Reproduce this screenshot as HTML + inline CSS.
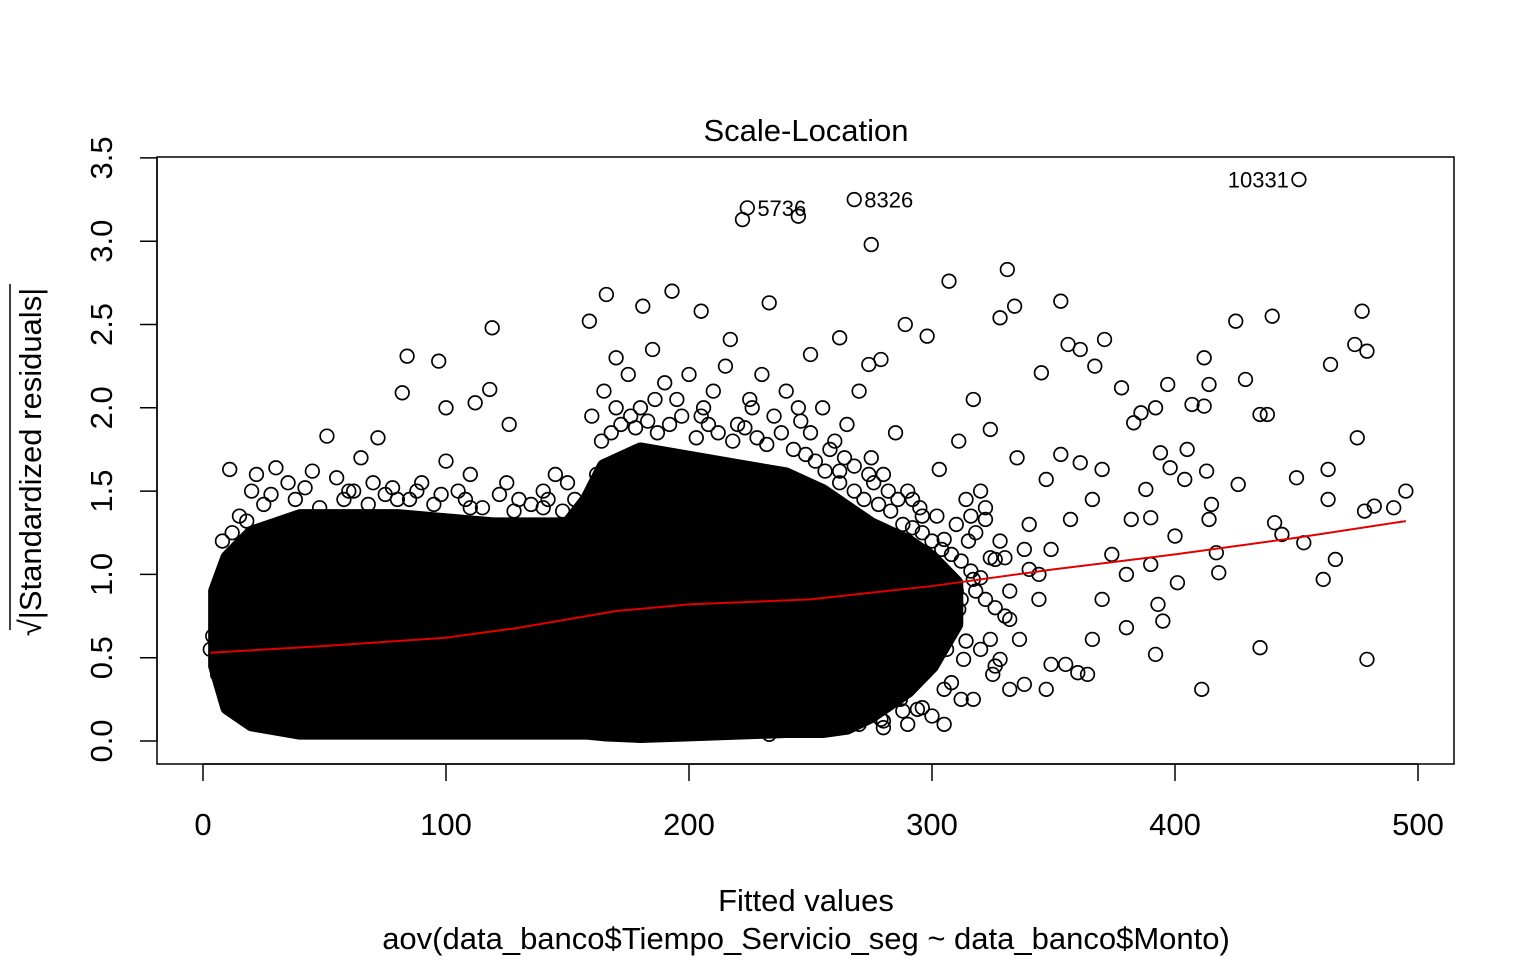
<!DOCTYPE html>
<html><head><meta charset="utf-8"><style>
html,body{margin:0;padding:0;background:#fff;}
svg{display:block;font-family:"Liberation Sans",Arial,sans-serif;}
</style></head><body>
<svg id="chart" width="1536" height="960" viewBox="0 0 1536 960" xmlns="http://www.w3.org/2000/svg">
<rect width="1536" height="960" fill="#fff"/>
<text x="806" y="141" font-size="31" text-anchor="middle">Scale-Location</text>
<rect x="157" y="157" width="1297" height="607" fill="none" stroke="#000" stroke-width="1.5"/>
<g id="marks"></g>
<g id="axes"></g>
<text x="806" y="911" font-size="31" text-anchor="middle">Fitted values</text>
<text x="806" y="949" font-size="31" text-anchor="middle">aov(data_banco$Tiempo_Servicio_seg ~ data_banco$Monto)</text>
<g transform="translate(41,462) rotate(-90)">
<text x="0" y="0" font-size="31" text-anchor="middle">√|Standardized residuals|</text>
<line x1="-168" y1="-31" x2="178" y2="-31" stroke="#000" stroke-width="1.5"/>
</g>
</svg>
<script>
const xTicks=[0,100,200,300,400,500];
const yTicks=[0.0,0.5,1.0,1.5,2.0,2.5,3.0,3.5];
const bandX=[5,10,20,40,80,120,150,158,165,180,200,220,240,255,265,275,290,300,310];
const bandLow=[0.45,0.2,0.1,0.05,0.05,0.05,0.05,0.05,0.04,0.03,0.04,0.05,0.06,0.06,0.08,0.15,0.3,0.45,0.7];
const bandHigh=[0.9,1.1,1.25,1.35,1.35,1.3,1.3,1.45,1.65,1.75,1.7,1.65,1.6,1.5,1.4,1.3,1.2,1.1,0.95];
const loessX=[3,50,100,130,170,200,250,300,350,400,450,495];
const loessY=[0.53,0.57,0.62,0.68,0.78,0.82,0.85,0.93,1.03,1.12,1.22,1.32];
const ptX=[224,222,245,268,275,451,331,307,353,334,328,477,425,440,474,479,475,464,412,429,435,438,397,414,407,412,386,392,383,378,371,367,361,356,345,463,463,450,426,413,415,414,482,495,490,478,453,444,441,417,418,466,461,435,479,411,400,401,390,393,395,392,380,380,374,370,366,360,364,355,394,398,388,382,390,405,404,353,347,361,370,366,357,349,340,344,332,336,328,332,338,347,349,119,84,97,82,118,112,100,51,72,126,159,166,181,193,205,233,217,262,289,298,279,250,274,11,22,30,303,311,317,324,314,322,305,317,326,311,324,313,305,305,317,294,287,279,270,258,233,20,35,45,55,65,70,90,100,105,110,125,130,140,145,150,160,165,170,175,180,185,190,195,200,205,210,215,220,225,230,235,240,245,250,255,260,265,270,275,280,285,290,295,270,285,260,300,295,310,315,320,330,325,335,340,8,4,3,6,12,
 262,268,272,278,283,288,292,296,300,304,308,312,316,320,324,328,318,322,326,330,314,306,298,290,284,278,272,266,300,306,312,318,296,286,276,268,262,258,264,274,282,292,302,310,316,322,308,296,288,280,270,262,320,326,332,338,344,312,300,290,280,
 15,25,28,38,42,48,58,62,68,75,78,85,88,95,98,108,115,122,128,135,142,148,153,162,164,168,172,176,178,183,187,192,197,203,208,212,218,223,228,232,238,243,248,252,256,170,186,206,226,246,12,18,8,60,80,110,140];
const ptY=[3.2,3.13,3.15,3.25,2.98,3.37,2.83,2.76,2.64,2.61,2.54,2.58,2.52,2.55,2.38,2.34,1.82,2.26,2.3,2.17,1.96,1.96,2.14,2.14,2.02,2.01,1.97,2.0,1.91,2.12,2.41,2.25,2.35,2.38,2.21,1.63,1.45,1.58,1.54,1.62,1.42,1.33,1.41,1.5,1.4,1.38,1.19,1.24,1.31,1.13,1.01,1.09,0.97,0.56,0.49,0.31,1.23,0.95,1.06,0.82,0.72,0.52,1.0,0.68,1.12,0.85,0.61,0.41,0.4,0.46,1.73,1.64,1.51,1.33,1.34,1.75,1.57,1.72,1.57,1.67,1.63,1.45,1.33,1.15,1.03,0.85,0.73,0.61,0.49,0.31,0.34,0.31,0.46,2.48,2.31,2.28,2.09,2.11,2.03,2.0,1.83,1.82,1.9,2.52,2.68,2.61,2.7,2.58,2.63,2.41,2.42,2.5,2.43,2.29,2.32,2.26,1.63,1.6,1.64,1.63,1.8,2.05,1.87,1.45,1.33,1.21,0.97,1.09,0.79,0.61,0.49,0.31,0.1,0.25,0.19,0.25,0.13,0.19,0.16,0.04,1.5,1.55,1.62,1.58,1.7,1.55,1.55,1.68,1.5,1.6,1.55,1.45,1.5,1.6,1.55,1.95,2.1,2.3,2.2,2.0,2.35,2.15,2.05,2.2,1.95,2.1,2.25,1.9,2.05,2.2,1.95,2.1,2.0,1.85,2.0,1.8,1.9,2.1,1.7,1.6,1.85,1.5,1.4,0.2,0.3,0.15,0.5,0.7,0.9,1.2,1.5,1.1,0.4,1.7,1.3,0.7,0.63,0.55,0.4,0.3,
 1.55,1.5,1.45,1.42,1.38,1.3,1.28,1.25,1.2,1.15,1.12,1.08,1.02,0.98,1.1,1.2,0.9,0.85,0.8,0.75,0.6,0.55,0.5,0.45,0.4,0.35,0.3,0.25,0.7,0.65,0.85,1.25,1.35,1.45,1.55,1.65,1.62,1.75,1.7,1.6,1.5,1.45,1.35,1.3,1.35,1.4,0.35,0.2,0.18,0.12,0.1,0.08,0.55,0.45,0.9,1.15,1.0,0.25,0.15,0.1,0.08,
 1.35,1.42,1.48,1.45,1.52,1.4,1.45,1.5,1.42,1.48,1.52,1.45,1.5,1.42,1.48,1.45,1.4,1.48,1.38,1.42,1.45,1.38,1.45,1.6,1.8,1.85,1.9,1.95,1.88,1.92,1.85,1.9,1.95,1.82,1.9,1.85,1.8,1.88,1.82,1.78,1.85,1.75,1.72,1.68,1.62,2.0,2.05,2.0,2.0,1.92,1.25,1.32,1.2,1.5,1.45,1.4,1.4];
const labelNames=["5736","8326","10331"];
const labelX=[224,268,451];
const labelY=[3.2,3.25,3.37];

const NS="http://www.w3.org/2000/svg";
const sx=v=>203+v*2.43;
const sy=v=>741-v*166.6;
const marks=document.getElementById('marks');
const axes=document.getElementById('axes');
function mk(tag,attrs,parent){const e=document.createElementNS(NS,tag);for(const k in attrs)e.setAttribute(k,attrs[k]);parent.appendChild(e);return e;}

let d="";
bandX.forEach((x,i)=>{d+=(i?"L":"M")+sx(x)+","+sy(bandHigh[i]);});
for(let i=bandX.length-1;i>=0;i--){d+="L"+sx(bandX[i])+","+sy(bandLow[i]);}
d+="Z";
const band=mk('path',{d:d,fill:"#000",stroke:"#000","stroke-width":14,"stroke-linejoin":"round"},marks);



ptX.forEach((x,i)=>{
  const c=mk('circle',{cx:sx(x),cy:sy(ptY[i]),r:6.8,fill:"none",stroke:"#000","stroke-width":1.7},marks);
  
  
});

let ld="";
loessX.forEach((x,i)=>{ld+=(i?"L":"M")+sx(x)+","+sy(loessY[i]);});
const ln=mk('path',{d:ld,fill:"none",stroke:"#e00000","stroke-width":2},marks);



labelNames.forEach((n,i)=>{
  const right=i<2;
  const t=mk('text',{x:right?sx(labelX[i])+10:sx(labelX[i])-10,y:sy(labelY[i])+8,"font-size":22,"text-anchor":right?"start":"end"},marks);
  t.textContent=n;
  
  
});

mk('line',{x1:sx(xTicks[0]),y1:764,x2:sx(xTicks[xTicks.length-1]),y2:764,stroke:"#000","stroke-width":1.5},axes);
xTicks.forEach(v=>{
  const tk=mk('line',{x1:sx(v),y1:764,x2:sx(v),y2:781,stroke:"#000","stroke-width":1.5},axes);
  
  
  const t=mk('text',{x:sx(v),y:835,"font-size":31,"text-anchor":"middle"},axes);
  t.textContent=v;
  
  
});
mk('line',{x1:157,y1:sy(yTicks[0]),x2:157,y2:sy(yTicks[yTicks.length-1]),stroke:"#000","stroke-width":1.5},axes);
yTicks.forEach(v=>{
  const tk=mk('line',{x1:140,y1:sy(v),x2:157,y2:sy(v),stroke:"#000","stroke-width":1.5},axes);
  
  
  const t=mk('text',{x:0,y:0,"font-size":31,"text-anchor":"middle",transform:"translate(112,"+sy(v)+") rotate(-90)"},axes);
  t.textContent=v.toFixed(1);
  
  
});
</script>
</body></html>
